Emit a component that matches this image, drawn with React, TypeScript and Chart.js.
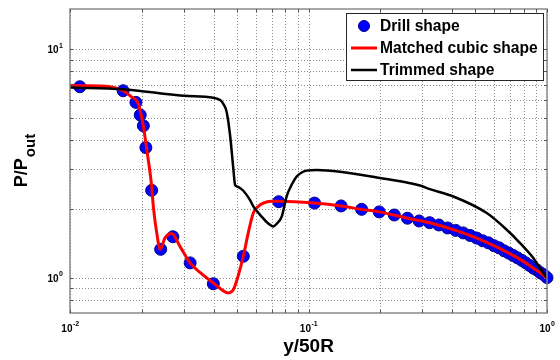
import { useEffect, useRef } from 'react';
import { Chart, registerables } from 'chart.js';

Chart.register(...registerables);

// Drill shape samples (blue markers)
const drillX = [
  0.0110, 0.0167, 0.0189, 0.0197, 0.0203, 0.0208, 0.0220, 0.0240, 0.0270, 0.0319, 0.0399, 0.0533,
  0.075, 0.106, 0.137, 0.167, 0.198, 0.229, 0.260, 0.291, 0.322, 0.352, 0.383, 0.414, 0.445, 0.476,
  0.507, 0.537, 0.568, 0.599, 0.630, 0.661, 0.692, 0.722, 0.753, 0.784, 0.815, 0.846, 0.877, 0.907,
  0.938, 0.969, 1.000,
];
const drillY = [
  6.85, 6.58, 5.85, 5.15, 4.62, 3.71, 2.41, 1.33, 1.51, 1.16, 0.94, 1.24,
  2.15, 2.12, 2.06, 1.99, 1.94, 1.88, 1.82, 1.77, 1.74, 1.70, 1.65, 1.61, 1.57, 1.53,
  1.49, 1.45, 1.42, 1.38, 1.35, 1.31, 1.28, 1.25, 1.22, 1.19, 1.16, 1.13, 1.10, 1.08,
  1.05, 1.03, 1.00,
];

// Matched cubic shape (red curve)
const cubicX = [
  0.0100, 0.0110, 0.0147, 0.0167, 0.0181, 0.0193, 0.0202, 0.0211, 0.0220, 0.02235, 0.0231, 0.0239,
  0.0250, 0.0267, 0.0289, 0.0319, 0.0360, 0.0399, 0.0461, 0.0484, 0.0533, 0.0559, 0.0587, 0.0616,
  0.0646, 0.0700, 0.0760, 0.106, 0.137, 0.167, 0.198, 0.260, 0.322, 0.414, 0.507, 0.599, 0.692,
  0.784, 0.877, 0.938, 0.969, 1.000,
];
const cubicY = [
  6.95, 6.92, 6.85, 6.58, 6.19, 5.79, 4.74, 3.50, 2.51, 2.05, 1.57, 1.33,
  1.49, 1.56, 1.37, 1.16, 1.03, 0.948, 0.857, 0.886, 1.24, 1.57, 1.92, 2.05,
  2.12, 2.16, 2.16, 2.12, 2.06, 1.99, 1.94, 1.82, 1.74, 1.61, 1.49, 1.38, 1.28,
  1.19, 1.10, 1.05, 1.02, 1.00,
];

// Trimmed shape (black curve)
const trimmedX = [
  0.0100, 0.0167, 0.0299, 0.0399, 0.0426, 0.0440, 0.0454, 0.0469, 0.0484, 0.0492, 0.0500, 0.0516,
  0.0533, 0.0568, 0.0587, 0.0636, 0.0680, 0.0712, 0.0735, 0.0772, 0.0810, 0.0850, 0.0892, 0.0983,
  0.1083, 0.1356, 0.1995, 0.2666, 0.2934, 0.323, 0.405, 0.559, 0.678, 0.771, 0.876, 0.965, 1.000,
];
const trimmedY = [
  6.80, 6.68, 6.25, 6.13, 5.99, 5.75, 5.30, 4.20, 3.00, 2.55, 2.51, 2.47,
  2.40, 2.19, 2.05, 1.85, 1.72, 1.675, 1.72, 1.85, 2.27, 2.55, 2.77, 2.94,
  2.96, 2.91, 2.73, 2.59, 2.53, 2.44, 2.265, 1.917, 1.62, 1.417, 1.219, 1.048, 1.00,
];

const seriesNames = ['Drill shape', 'Matched cubic shape', 'Trimmed shape'];
const xTickExponents = ['-2', '-1', '0'];
const yTickExponents = ['0', '1'];
const xGrid = [
  0.01, 0.02, 0.03, 0.04, 0.05, 0.06, 0.07, 0.08, 0.09,
  0.1, 0.2, 0.3, 0.4, 0.5, 0.6, 0.7, 0.8, 0.9, 1,
];
const yGrid = [0.8, 0.9, 1, 2, 3, 4, 5, 6, 7, 8, 9, 10];
const xTitle = 'y/50R';
const yTitleMain = 'P/P';
const yTitleSub = 'out';

const FONT = '"Liberation Sans", Arial, Helvetica, sans-serif';
const BLUE = '#0000ff';
const RED = '#ff0000';
const BLACK = '#000000';

const toPoints = (xs: number[], ys: number[]) => xs.map((x, i) => ({ x, y: ys[i] }));

const decorations = {
  id: 'decorations',
  beforeDatasetsDraw(chart: any) {
    const { ctx, chartArea: a, scales } = chart;
    const xs = scales.x;
    const ys = scales.y;
    ctx.save();
    ctx.strokeStyle = '#8c8c8c';
    ctx.lineWidth = 1;
    ctx.setLineDash([1, 2]);
    xGrid.forEach((v) => {
      const px = Math.round(xs.getPixelForValue(v)) + 0.5;
      ctx.beginPath();
      ctx.moveTo(px, a.top);
      ctx.lineTo(px, a.bottom);
      ctx.stroke();
    });
    yGrid.forEach((v) => {
      const py = Math.round(ys.getPixelForValue(v)) + 0.5;
      ctx.beginPath();
      ctx.moveTo(a.left, py);
      ctx.lineTo(a.right, py);
      ctx.stroke();
    });
    ctx.restore();
  },
  afterDatasetsDraw(chart: any) {
    const { ctx, chartArea: a, scales } = chart;
    const xs = scales.x;
    const ys = scales.y;
    ctx.save();

    // axes box
    ctx.strokeStyle = '#8a8a8a';
    ctx.lineWidth = 1.5;
    ctx.setLineDash([]);
    ctx.strokeRect(a.left, a.top, a.right - a.left, a.bottom - a.top);

    // inward tick marks
    ctx.strokeStyle = '#555555';
    ctx.lineWidth = 1;
    const tl = 3;
    xGrid.forEach((v) => {
      const px = Math.round(xs.getPixelForValue(v)) + 0.5;
      ctx.beginPath();
      ctx.moveTo(px, a.bottom);
      ctx.lineTo(px, a.bottom - tl);
      ctx.moveTo(px, a.top);
      ctx.lineTo(px, a.top + tl);
      ctx.stroke();
    });
    yGrid.forEach((v) => {
      const py = Math.round(ys.getPixelForValue(v)) + 0.5;
      ctx.beginPath();
      ctx.moveTo(a.left, py);
      ctx.lineTo(a.left + tl, py);
      ctx.moveTo(a.right, py);
      ctx.lineTo(a.right - tl, py);
      ctx.stroke();
    });

    // tick labels: 10 with superscript exponent
    ctx.fillStyle = '#000';
    ctx.textBaseline = 'alphabetic';
    ctx.textAlign = 'left';
    const baseFont = `bold 10px ${FONT}`;
    const expFont = `bold 7px ${FONT}`;
    xTickExponents.forEach((e) => {
      const px = xs.getPixelForValue(Math.pow(10, Number(e)));
      ctx.font = baseFont;
      const wb = ctx.measureText('10').width;
      ctx.font = expFont;
      const we = ctx.measureText(e).width;
      const x0 = px - (wb + we) / 2;
      ctx.font = baseFont;
      ctx.fillText('10', x0, a.bottom + 19);
      ctx.font = expFont;
      ctx.fillText(e, x0 + wb + 0.5, a.bottom + 13);
    });
    yTickExponents.forEach((e) => {
      const py = ys.getPixelForValue(Math.pow(10, Number(e)));
      ctx.font = expFont;
      const we = ctx.measureText(e).width;
      ctx.font = baseFont;
      const wb = ctx.measureText('10').width;
      const right = a.left - 7;
      ctx.fillText('10', right - we - wb - 0.5, py + 4);
      ctx.font = expFont;
      ctx.fillText(e, right - we, py - 1.5);
    });

    // axis titles
    ctx.font = `bold 19px ${FONT}`;
    ctx.textAlign = 'center';
    ctx.fillText(xTitle, (a.left + a.right) / 2, 352);

    ctx.save();
    ctx.translate(27, (a.top + a.bottom) / 2);
    ctx.rotate(-Math.PI / 2);
    ctx.textAlign = 'left';
    const mainFont = `bold 18px ${FONT}`;
    const subFont = `bold 15px ${FONT}`;
    ctx.font = mainFont;
    const wm = ctx.measureText(yTitleMain).width;
    ctx.font = subFont;
    const wsub = ctx.measureText(yTitleSub).width;
    const sx = -(wm + wsub) / 2;
    ctx.font = mainFont;
    ctx.fillText(yTitleMain, sx, 0);
    ctx.font = subFont;
    ctx.fillText(yTitleSub, sx + wm + 1, 8);
    ctx.restore();

    // legend
    const lx = 346, ly = 13, lw = 197, lh = 67;
    ctx.fillStyle = '#ffffff';
    ctx.fillRect(lx, ly, lw, lh);
    ctx.strokeStyle = '#262626';
    ctx.lineWidth = 1;
    ctx.strokeRect(lx + 0.5, ly + 0.5, lw, lh);
    const rows = [26, 48, 70];
    // marker row
    ctx.beginPath();
    ctx.arc(364, rows[0], 5.5, 0, Math.PI * 2);
    ctx.fillStyle = BLUE;
    ctx.fill();
    ctx.strokeStyle = '#00008b';
    ctx.lineWidth = 1;
    ctx.stroke();
    // line rows
    ctx.lineCap = 'butt';
    ctx.strokeStyle = RED;
    ctx.lineWidth = 3;
    ctx.beginPath();
    ctx.moveTo(351, rows[1]);
    ctx.lineTo(377, rows[1]);
    ctx.stroke();
    ctx.strokeStyle = BLACK;
    ctx.lineWidth = 2.5;
    ctx.beginPath();
    ctx.moveTo(351, rows[2]);
    ctx.lineTo(377, rows[2]);
    ctx.stroke();
    ctx.fillStyle = '#000';
    ctx.font = `bold 15.6px ${FONT}`;
    ctx.textAlign = 'left';
    ctx.textBaseline = 'middle';
    seriesNames.forEach((name, i) => ctx.fillText(name, 380, rows[i] + 1));

    ctx.restore();
  },
};

export default function App() {
  const canvasRef = useRef<HTMLCanvasElement | null>(null);

  useEffect(() => {
    document.body.style.margin = '0';
    const canvas = canvasRef.current;
    if (!canvas) return;
    const chart = new Chart(canvas, {
      type: 'scatter',
      data: {
        datasets: [
          {
            label: seriesNames[0],
            data: toPoints(drillX, drillY),
            showLine: false,
            pointRadius: 6,
            pointBackgroundColor: BLUE,
            pointBorderColor: '#00008b',
            pointBorderWidth: 1,
            order: 3,
            clip: false,
          },
          {
            label: seriesNames[1],
            data: toPoints(cubicX, cubicY),
            showLine: true,
            pointRadius: 0,
            borderColor: RED,
            borderWidth: 3,
            cubicInterpolationMode: 'monotone',
            order: 2,
            clip: false,
          },
          {
            label: seriesNames[2],
            data: toPoints(trimmedX, trimmedY),
            showLine: true,
            pointRadius: 0,
            borderColor: BLACK,
            borderWidth: 2.5,
            cubicInterpolationMode: 'monotone',
            order: 1,
            clip: false,
          },
        ],
      },
      options: {
        responsive: false,
        animation: false,
        events: [],
        layout: { padding: { left: 70, right: 13, top: 9, bottom: 47 } },
        plugins: { legend: { display: false }, tooltip: { enabled: false } },
        scales: {
          x: { type: 'logarithmic', min: 0.01, max: 1, display: false },
          y: { type: 'logarithmic', min: 0.7, max: 15, display: false },
        },
      },
      plugins: [decorations],
    } as any);
    return () => chart.destroy();
  }, []);

  return <canvas ref={canvasRef} width={560} height={360} style={{ display: 'block' }} />;
}
